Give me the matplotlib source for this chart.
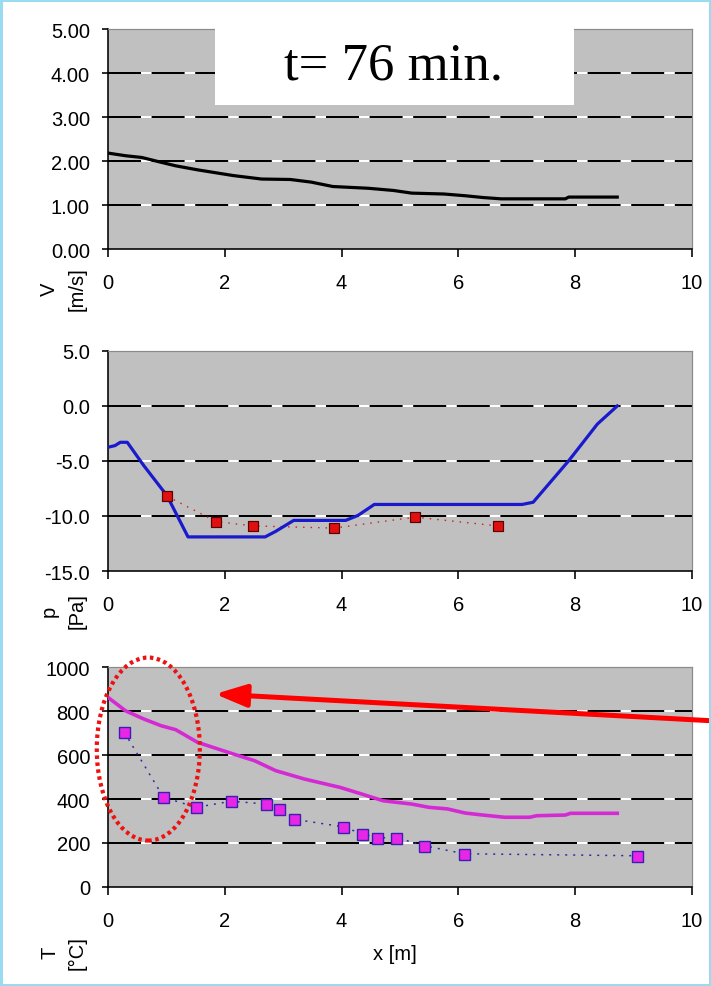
import matplotlib
matplotlib.use('Agg')
import matplotlib.pyplot as plt
from matplotlib.patches import Ellipse, Rectangle, FancyArrowPatch

plt.rcParams['font.family'] = ['Liberation Sans', 'DejaVu Sans']
plt.rcParams['lines.scale_dashes'] = False

# ---------------- data ----------------
x_ticks = [0, 2, 4, 6, 8, 10]

v_ticks = [0, 1, 2, 3, 4, 5]
v_x = [0.0, 0.30, 0.58, 0.85, 1.16, 1.53, 2.14, 2.63, 3.12, 3.48, 3.85, 4.46,
       4.89, 5.20, 5.75, 6.12, 6.42, 6.73, 7.83, 7.89, 8.72]
v_y = [2.18, 2.12, 2.08, 1.99, 1.89, 1.80, 1.67, 1.59, 1.58, 1.52, 1.42, 1.38,
       1.33, 1.27, 1.25, 1.21, 1.17, 1.14, 1.14, 1.18, 1.18]

p_ticks = [-15, -10, -5, 0, 5]
p_x = [0.0, 0.12, 0.21, 0.33, 0.61, 1.01, 1.37, 2.69, 2.87, 3.18, 4.07, 4.28,
       4.56, 7.09, 7.28, 7.89, 8.38, 8.72]
p_y = [-3.75, -3.6, -3.3, -3.3, -5.4, -8.15, -11.9, -11.9, -11.4, -10.4, -10.4,
       -9.95, -8.95, -8.95, -8.75, -4.97, -1.64, 0.0]
pm_x = [1.01, 1.85, 2.48, 3.87, 5.26, 6.67]
pm_y = [-8.2, -10.5, -10.9, -11.1, -10.1, -10.9]

T_ticks = [0, 200, 400, 600, 800, 1000]
T_x = [0.0, 0.30, 0.61, 0.91, 1.16, 1.53, 2.14, 2.51, 2.87, 3.36, 3.97, 4.34,
       4.71, 5.20, 5.50, 5.81, 6.12, 6.42, 6.79, 7.22, 7.34, 7.83, 7.92, 8.72]
T_y = [862, 801, 764, 733, 715, 658, 605, 574, 529, 491, 453, 423,
       392, 377, 362, 355, 336, 327, 317, 317, 324, 327, 335, 335]
Tm_x = [0.28, 0.95, 1.51, 2.11, 2.71, 2.92, 3.18, 4.02, 4.35, 4.61, 4.94, 5.41, 6.10, 9.06]
Tm_y = [703, 408, 362, 390, 377, 353, 308, 274, 242, 224, 224, 188, 151, 142]

title_text = "t= 76 min."

# ---------------- figure ----------------
W, H = 711, 987
fig = plt.figure(figsize=(W / 100, H / 100), dpi=100)
PT = 72 / 100  # points per pixel


def fx(px):
    return px / W


def fy(py):
    return 1 - py / H


def px_axes(left, top, right, bottom):
    return fig.add_axes([fx(left), fy(bottom), (right - left) / W, (bottom - top) / H])


def style(ax, ylim, yticks, fmt):
    ax.set_facecolor('#C0C0C0')
    ax.set_xlim(0, 10)
    ax.set_ylim(*ylim)
    ax.set_xticks(x_ticks)
    ax.set_xticklabels([str(t) for t in x_ticks])
    ax.set_yticks(yticks)
    ax.set_yticklabels([fmt.format(t) for t in yticks])
    for t in yticks[1:-1]:
        ax.axhline(t, color='white', lw=2 * PT, zorder=1)
        ax.axhline(t, color='black', lw=2 * PT, dashes=(33 * PT, 10.6 * PT), zorder=1.1)
    for s in ('left', 'bottom'):
        ax.spines[s].set_color('black')
        ax.spines[s].set_linewidth(1.6 * PT)
    for s in ('top', 'right'):
        ax.spines[s].set_color('#8a8a8a')
        ax.spines[s].set_linewidth(1.2 * PT)
    ax.tick_params(axis='y', direction='out', length=6 * PT, width=1.6 * PT,
                   pad=12 * PT, labelsize=14.5, colors='black')
    ax.tick_params(axis='x', direction='out', length=8 * PT, width=1.6 * PT,
                   pad=16 * PT, labelsize=14.5, colors='black')


ax1 = px_axes(108, 30, 692, 250)
ax2 = px_axes(108, 352, 692, 572)
ax3 = px_axes(108, 668, 692, 888)

style(ax1, (0, 5), v_ticks, '{:.2f}')
style(ax2, (-15, 5), p_ticks, '{:.1f}')
style(ax3, (0, 1000), T_ticks, '{:d}')

# V
ax1.plot(v_x, v_y, color='black', lw=3.2 * PT, zorder=3, solid_joinstyle='miter')

# p
ax2.plot(pm_x, pm_y, color='#d02020', lw=1.4 * PT, dashes=(1.5 * PT, 6 * PT), zorder=2)
ax2.plot(pm_x, pm_y, ls='none', marker='s', markersize=10 * PT,
         markerfacecolor='#e01010', markeredgecolor='#5a0000', markeredgewidth=1.2 * PT, zorder=4)
ax2.plot(p_x, p_y, color='#1a1acd', lw=3.2 * PT, zorder=3)

# T
ax3.plot(Tm_x, Tm_y, color='#2a2aa8', lw=1.5 * PT, dashes=(2 * PT, 6 * PT), zorder=2)
ax3.plot(Tm_x, Tm_y, ls='none', marker='s', markersize=11 * PT,
         markerfacecolor='#e826e8', markeredgecolor='#3a20b0', markeredgewidth=1.4 * PT, zorder=4)
ax3.plot(T_x, T_y, color='#d42ad4', lw=3.6 * PT, zorder=3)

# dotted red ellipse
ell = Ellipse((0.69, 627), width=103 / 58.37, height=183 / 0.22, fill=False,
              edgecolor='#ee1111', lw=4.2 * PT, linestyle=(0, (3.5 * PT, 3.5 * PT)),
              clip_on=False, zorder=10)
ax3.add_patch(ell)

# red arrow
arrow = FancyArrowPatch((fx(716), fy(722)), (fx(215), fy(695)),
                        transform=fig.transFigure, arrowstyle='-|>',
                        mutation_scale=19, color='#ff0000', lw=5 * PT,
                        shrinkA=0, shrinkB=0, zorder=20)
arrow.set_arrowstyle('-|>', head_length=1.0, head_width=0.36)
fig.add_artist(arrow)

# title box
fig.add_artist(Rectangle((fx(215), fy(106)), (574 - 215) / W, (106 - 29) / H,
                         transform=fig.transFigure, facecolor='white',
                         edgecolor='none', zorder=5))
fig.text(fx(394), fy(67), title_text, family=['Liberation Serif', 'DejaVu Serif'],
         fontsize=38, ha='center', va='center', zorder=6)

# axis labels
lab_kw = dict(rotation=90, rotation_mode='anchor', ha='center', va='baseline', fontsize=14.5)
for (t1, t2, yc) in [("V", "[m/s]", 289), ("p", "[Pa]", 611), ("T", "[°C]", 953)]:
    fig.text(fx(55), fy(yc), t1, **lab_kw)
    fig.text(fx(83), fy(yc), t2, **lab_kw)
fig.text(fx(395), fy(955), "x [m]", ha='center', va='center', fontsize=14.5)

# light blue frame
fig.add_artist(Rectangle((0, 0), 1, 1, transform=fig.transFigure, fill=False,
                         edgecolor='#99dcf2', lw=5 * PT, zorder=30))

fig.savefig('out.png', dpi=100)
